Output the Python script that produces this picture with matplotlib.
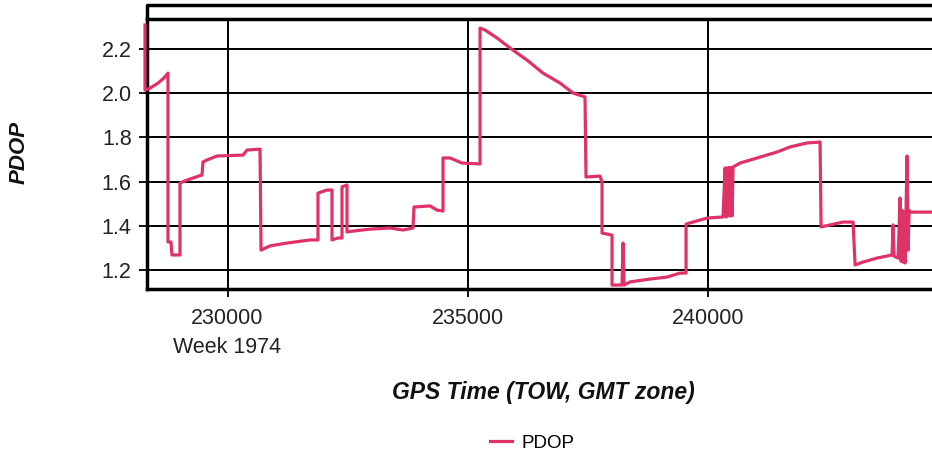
import numpy as np
from matplotlib import pyplot as plt

# PDOP trace (TOW seconds, PDOP)
gps_time = [228282, 228282, 228386, 228553, 228678, 228761, 228761, 228823, 228844, 229011,
            229011, 229157, 229469, 229490, 229573, 229781, 230323, 230406, 230677, 230698,
            230885, 231239, 231718, 231884, 231884, 232072, 232176, 232176, 232301, 232384,
            232384, 232488, 232488, 232613, 232967, 233383, 233654, 233862, 233883, 234216,
            234362, 234487, 234487, 234633, 234883, 235258, 235258, 235362, 235612, 235882,
            236236, 236569, 236923, 237194, 237443, 237464, 237756, 237798, 237798, 238006,
            238006, 238214, 238235, 238256, 238381, 238797, 239151, 239422, 239547, 239547,
            239693, 239984, 240317, 240359, 240380, 240400, 240421, 240442, 240463, 240484,
            240505, 240525, 240671, 241025,
            241442, 241712, 242066, 242337, 242358, 242816, 243024, 243066, 243232, 243524,
            243836, 243857, 243878, 243961, 244003, 244024, 244044, 244065, 244086, 244107,
            244128, 244149, 244170, 244190, 244211, 244732]
pdop = [2.309, 2.014, 2.023, 2.046, 2.069, 2.091, 1.327, 1.327, 1.268, 1.268,
        1.594, 1.607, 1.630, 1.689, 1.698, 1.716, 1.720, 1.743, 1.747, 1.290,
        1.309, 1.322, 1.336, 1.336, 1.548, 1.562, 1.562, 1.336, 1.345, 1.345,
        1.576, 1.585, 1.372, 1.376, 1.385, 1.390, 1.381, 1.390, 1.485, 1.490,
        1.471, 1.467, 1.707, 1.707, 1.684, 1.680, 2.295, 2.286, 2.250, 2.205,
        2.150, 2.091, 2.046, 2.001, 1.983, 1.621, 1.625, 1.598, 1.367, 1.358,
        1.132, 1.132, 1.322, 1.132, 1.146, 1.159, 1.168, 1.186, 1.186, 1.408,
        1.417, 1.435, 1.440, 1.662, 1.440, 1.662, 1.445, 1.664, 1.445, 1.664,
        1.445, 1.666, 1.684, 1.707,
        1.734, 1.757, 1.775, 1.779, 1.395, 1.417, 1.417, 1.223, 1.236, 1.254,
        1.268, 1.404, 1.263, 1.254, 1.526, 1.240, 1.470, 1.236, 1.462, 1.232,
        1.480, 1.716, 1.290, 1.470, 1.462, 1.462]

x_ticks = [230000, 235000, 240000]
x_tick_labels = ["230000\nWeek 1974", "235000", "240000"]
y_ticks = [1.2, 1.4, 1.6, 1.8, 2.0, 2.2]

plt.rcParams['font.family'] = ['Liberation Sans', 'DejaVu Sans']

fig = plt.figure(figsize=(9.32, 4.57), dpi=100)
ax = fig.add_axes([147 / 932, 1 - 289 / 457, (940 - 147) / 932, (289 - 19) / 457])

ax.plot(gps_time, pdop, color='#DF3267', lw=2.3, clip_on=False, zorder=3, label='PDOP')

ax.set_xlim(228324, 244834)
ax.set_ylim(1.114, 2.336)
ax.set_xticks(x_ticks)
ax.set_xticklabels(x_tick_labels)
ax.set_yticks(y_ticks)
ax.set_yticklabels([f"{v:.1f}" for v in y_ticks])
ax.grid(True, color='black', lw=1.4)
ax.set_axisbelow(True)

for side in ['left', 'bottom', 'top']:
    ax.spines[side].set_linewidth(2.5)
ax.spines['right'].set_visible(False)
ax.tick_params(axis='both', labelsize=15.5, labelcolor='#222222', length=6, width=1.3)
ax.tick_params(axis='x', pad=8)
ax.tick_params(axis='y', pad=5)
for lab in ax.get_xticklabels():
    lab.set_linespacing(1.45)

# outer frame line above the plot area
ax.plot([0, 0, 1.02], [1, 1.052, 1.052], transform=ax.transAxes, color='black',
        lw=2.5, clip_on=False, solid_capstyle='butt')

fig.text(543 / 932, 1 - 393 / 457, "GPS Time (TOW, GMT zone)", ha='center', va='center',
         fontsize=16.5, fontweight='bold', fontstyle='italic', color='#111111')
fig.text(19 / 932, 1 - 152 / 457, "PDOP", ha='center', va='center', rotation=90,
         fontsize=16, fontweight='bold', fontstyle='italic', color='#111111')

fig.legend(loc='center', bbox_to_anchor=(532 / 932, 1 - 443 / 457), frameon=False,
           fontsize=13.5, handlelength=1.2, handletextpad=0.5)

fig.savefig("out.png", dpi=100)
